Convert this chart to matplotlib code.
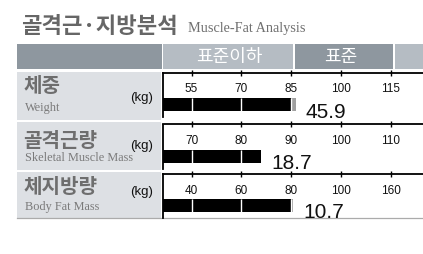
import numpy as np
import matplotlib.pyplot as plt
from matplotlib.patches import Rectangle

# data
row_kr = ["체중", "골격근량", "체지방량"]
row_en = ["Weight", "Skeletal Muscle Mass", "Body Fat Mass"]
unit = "(kg)"
tick_values = [
    [55, 70, 85, 100, 115],
    [70, 80, 90, 100, 110],
    [40, 60, 80, 100, 160],
]
bar_values = [86.5, 84.0, 80.8]
measured = ["45.9", "18.7", "10.7"]
header_labels = ["표준이하", "표준"]
title_kr = "골격근·지방분석"
title_en = "Muscle-Fat Analysis"

W, H = 423, 254
KR = ["Noto Sans CJK KR", "DejaVu Sans"]
SANS = "Liberation Sans"
SERIF = "Liberation Serif"
DARK = "#8e979f"
LIGHT = "#b5bcc3"
BOX = "#dde0e4"
GRAY_TXT = "#6e6e6e"

fig = plt.figure(figsize=(W / 100, H / 100), dpi=100)
bg = fig.add_axes([0, 0, 1, 1])
bg.set_xlim(0, W)
bg.set_ylim(H, 0)
bg.axis("off")

# 제목
bg.text(21, 33, title_kr, family=KR, fontsize=16, fontweight="bold",
        color="#666666", va="baseline")
bg.text(188, 32, title_en, family=SERIF, fontsize=10.3, color="#707070",
        va="baseline")

# 헤더
for x0, x1, c in [(17, 161.5, DARK), (163, 292.5, LIGHT), (294.5, 392.5, DARK), (394.5, 424, LIGHT)]:
    bg.add_patch(Rectangle((x0, 44), x1 - x0, 25, color=c, lw=0))
bg.text(229, 57, header_labels[0], family=KR, fontsize=13, color="white",
        ha="center", va="center")
bg.text(341, 57, header_labels[1], family=KR, fontsize=13, color="white",
        ha="center", va="center")

# 왼쪽 라벨
box_tops = [71.5, 121.5, 171.5]
box_bots = [119.5, 169.5, 217.5]
chart_tops = [73, 124.5, 174]
kr_base = [91.5, 147, 193]
kg_base = [100.5, 148.5, 195.5]
en_base = [111, 161, 210]
for i in range(3):
    bg.add_patch(Rectangle((17, box_tops[i]), 144, box_bots[i] - box_tops[i],
                           color=BOX, lw=0))
    bg.text(23, kr_base[i], row_kr[i], family=KR, fontsize=14.5,
            fontweight="bold", color=GRAY_TXT, va="baseline")
    bg.text(25, en_base[i], row_en[i], family=SERIF, fontsize=8.8,
            color="#7a7a7a", va="baseline")
    bg.text(130, kg_base[i], unit, family=SANS, fontsize=9.5, color="#111111",
            va="baseline")
bg.plot([17, W], [217.8, 217.8], color="#ababab", lw=0.9)

# 막대 그래프
px0, step = 191.5, 49.75
xmin = (163 - px0) / step
xmax = (W - px0) / step
for i in range(3):
    t = chart_tops[i]
    ax = fig.add_axes([163 / W, 1 - (t + 44) / H, (W - 163) / W, 44 / H])
    ax.set_xlim(xmin, xmax)
    ax.set_ylim(44, 0)
    ax.patch.set_alpha(0)
    for s in ["right", "bottom"]:
        ax.spines[s].set_visible(False)
    for s in ["top", "left"]:
        ax.spines[s].set_linewidth(1.3)
    ticks = tick_values[i]
    pos = np.arange(len(ticks))
    ax.set_xticks(pos)
    ax.xaxis.tick_top()
    ax.tick_params(axis="x", direction="inout", length=5, width=1,
                   labeltop=False)
    ax.set_yticks([])
    for p, v in zip(pos, ticks):
        ax.text(p, 19.5, str(v), family=SANS, fontsize=8.5, ha="center",
                va="baseline", color="#111111")
    end = np.interp(bar_values[i], ticks, pos)
    black_end = min(end, 2)
    ax.barh(31.5, black_end - xmin, left=xmin, height=13, color="black")
    if end > 2:
        ax.barh(31.5, end - 2, left=2, height=13, color="#a0a0a0")
    ax.vlines(pos, 25, 38, color="white", lw=1.0)
    ax.text(end + 0.2, 44.5, measured[i], family=SANS, fontsize=15,
            va="baseline", color="#111111", clip_on=False)

fig.savefig("out.png", dpi=100)
